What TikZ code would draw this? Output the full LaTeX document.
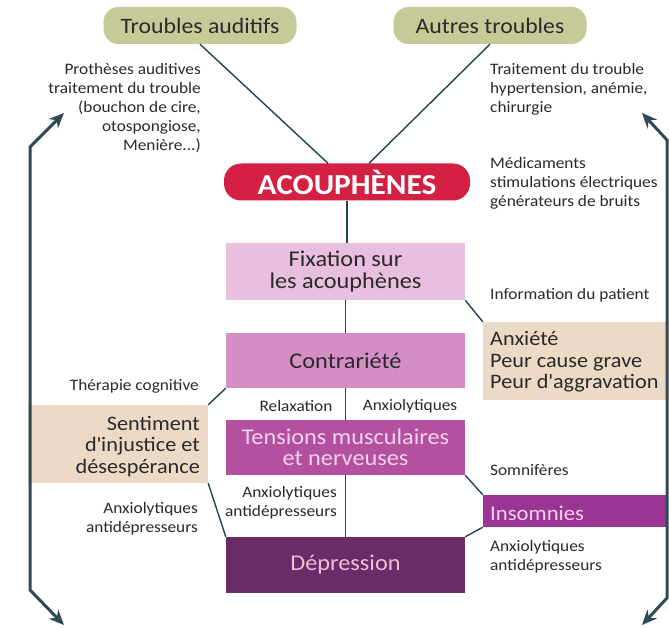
\documentclass[tikz,border=0pt]{standalone}
\usepackage{fontspec}
\setmainfont{Carlito}[FakeStretch=1.08]
\usetikzlibrary{arrows.meta,calc}
\definecolor{olive}{HTML}{C5CA98}
\definecolor{acred}{HTML}{D42042}
\definecolor{fixc}{HTML}{E9BFDF}
\definecolor{contc}{HTML}{D58DC5}
\definecolor{tensc}{HTML}{B3509F}
\definecolor{depc}{HTML}{6A2C68}
\definecolor{insc}{HTML}{9B3595}
\definecolor{tanc}{HTML}{ECD9C6}
\definecolor{linec}{HTML}{1F4550}
\definecolor{arrc}{HTML}{2F4A55}
\definecolor{txt}{HTML}{2A2A2A}
\definecolor{lightpink}{HTML}{F4D2EC}
\definecolor{deppink}{HTML}{F2BCD4}
\tikzset{
  pill/.style={fill=olive, rounded corners=15pt, minimum width=193pt, minimum height=37pt, font=\fontsize{22}{24}\selectfont, text=txt, inner sep=0pt},
  mainbox/.style={minimum width=239pt, inner sep=0pt, align=center, font=\fontsize{22.5}{21.5}\selectfont},
  small/.style={font=\fontsize{16}{19}\selectfont, text=txt, inner sep=0pt},
  bigtxt/.style={inner sep=0pt, text=txt, font=\fontsize{20.6}{21.5}\selectfont},
  conn/.style={draw=linec, line width=1.4pt},
  bigarrow/.style={draw=arrc, line width=3pt, {Stealth[length=15pt,width=13pt]}-{Stealth[length=15pt,width=13pt]}}
}
\begin{document}
\begin{tikzpicture}[x=1pt,y=-1pt]
\useasboundingbox (0,0) rectangle (669,628);
\fill[white] (0,0) rectangle (669,628);
% top pills
\node[pill] (ta) at (200,25.5) {Troubles auditifs};
\node[pill] (at) at (490,25.5) {Autres troubles};
% side texts top
\node[small, anchor=east, align=right] (prot) at (201,108) {Prothèses auditives\\traitement du trouble\\(bouchon de cire,\\otospongiose,\\Menière...)};
\node[small, anchor=west, align=left] (trait) at (490,89) {Traitement du trouble\\hypertension, anémie,\\chirurgie};
% acouphenes
\node[fill=acred, rounded corners=17pt, minimum width=246pt, minimum height=37pt, inner sep=0pt, text=white, font=\fontsize{29}{30}\selectfont\bfseries] (ac) at (347,182) {ACOUPHÈNES};
\node[small, anchor=west, align=left] (med) at (490,183.5) {Médicaments\\stimulations électriques\\générateurs de bruits};
% central boxes
\node[mainbox, fill=fixc, minimum height=57pt, text=txt] (fix) at (345.5,271.5) {Fixation sur\\les acouphènes};
\node[mainbox, fill=contc, minimum height=55pt, text=txt] (cont) at (345.5,360.5) {Contrariété};
\node[mainbox, fill=tensc, minimum height=55pt, text=lightpink] (tens) at (345.5,447.5) {Tensions musculaires\\et nerveuses};
\node[mainbox, fill=depc, minimum height=56pt, text=deppink] (dep) at (345.5,565) {Dépression};
% side boxes
\node[fill=tanc, minimum width=186pt, minimum height=78pt, inner sep=0pt] (anx) at (576,361) {};
\node[bigtxt, anchor=west, align=left] (anxt) at (490,362) {Anxiété\\Peur cause grave\\Peur d\textquotesingle aggravation};
\node[fill=tanc, minimum width=180pt, minimum height=78pt, inner sep=0pt] (sent) at (118,444) {};
\node[bigtxt, anchor=east, align=right] (sentt) at (200,446.5) {Sentiment\\d\textquotesingle injustice et\\désespérance};
\node[fill=insc, minimum width=184pt, minimum height=32pt, inner sep=0pt] (ins) at (575,511) {};
\node[anchor=west, inner sep=0pt, text=lightpink, font=\fontsize{21}{22}\selectfont] (inst) at (490,513) {Insomnies};
% labels
\node[small, anchor=west] (info) at (490,295) {Information du patient};
\node[small, anchor=east] (ther) at (199,386) {Thérapie cognitive};
\node[small] (relax) at (296,406.5) {Relaxation};
\node[small] (anx1) at (410,406.5) {Anxiolytiques};
\node[small, anchor=east, align=right] (anx2) at (337,502.5) {Anxiolytiques\\antidépresseurs};
\node[small, anchor=east, align=right] (anx3) at (198,519) {Anxiolytiques\\antidépresseurs};
\node[small, anchor=west] (somn) at (490,470) {Somnifères};
\node[small, anchor=west, align=left] (anx4) at (490,556.5) {Anxiolytiques\\antidépresseurs};
% connectors
\draw[conn] (ta.south) -- ($(ac.north)+(-19,0)$);
\draw[conn] (at.south) -- ($(ac.north)+(22,0)$);
\draw[conn] (ac.south) -- (ac.south |- fix.north);
\draw[conn] (fix.south) -- (cont.north);
\draw[conn] (cont.south) -- (tens.north);
\draw[conn] (tens.south) -- (dep.north);
\draw[conn] (fix.south east) -- (anx.north west);
\draw[conn] (cont.south west) -- (sent.north east);
\draw[conn] (sent.south east) -- (dep.north west);
\draw[conn] (tens.south east) -- (ins.north west);
\draw[conn] (ins.south west) -- (dep.north east);
% big arrows
\coordinate (l1) at (64,113);
\coordinate (l2) at (30,147);
\coordinate (l3) at (30,590);
\coordinate (l4) at (64,625);
\coordinate (r1) at (642,113);
\coordinate (r2) at (667,140);
\coordinate (r3) at (667,598);
\coordinate (r4) at (642,625);
\draw[bigarrow] (l1) -- (l2) -- (l3) -- (l4);
\draw[bigarrow] (r1) -- (r2) -- (r3) -- (r4);
\end{tikzpicture}
\end{document}
